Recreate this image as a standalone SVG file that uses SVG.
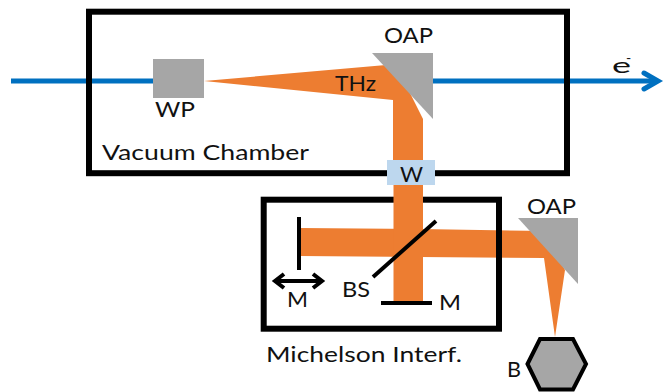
<svg xmlns="http://www.w3.org/2000/svg" width="670" height="392" viewBox="0 0 670 392">
<defs>
<style>
text{font-family:"Lato","Open Sans","Liberation Sans",sans-serif;font-size:22px;fill:#111}
.box{fill:none;stroke:#000;stroke-width:6}
.beam{fill:#ed7d31}
.mirror{fill:#a6a6a6}
.opt{stroke:#000;stroke-width:4;fill:none}
.eb{stroke:#0070c0;stroke-width:5;fill:none}
</style>
</defs>
<rect width="670" height="392" fill="#fff"/>
<g id="connectors">
<path class="eb" d="M11 81H204M433 81H657"/>
<path class="eb" d="M644 73L658 81L644 89" stroke-linecap="round" stroke-linejoin="miter"/>
<path class="beam" d="M204 81L386 65L408 89L423 119V160H393V100Z"/>
<path class="beam" d="M300 228L420 229L544 231L565 270L555 337L544 258L300 256Z"/>
</g>
<g id="vacuum-chamber">
<rect class="box" x="89" y="11.7" width="478" height="161.5"/>
<text x="102" y="160" textLength="207" lengthAdjust="spacingAndGlyphs">Vacuum Chamber</text>
</g>
<g id="michelson">
<rect class="box" x="263.7" y="199.7" width="235.3" height="129"/>
<text x="266" y="362" textLength="196" lengthAdjust="spacingAndGlyphs">Michelson Interf.</text>
</g>
<g id="thz-beam">
<rect class="beam" x="393.5" y="119" width="29.5" height="183"/>
<text x="335" y="91" textLength="41" lengthAdjust="spacingAndGlyphs">THz</text>
</g>
<g id="wp">
<rect class="mirror" x="153" y="59" width="51" height="39"/>
<text x="155" y="117" textLength="40" lengthAdjust="spacingAndGlyphs">WP</text>
</g>
<g id="oap1">
<polygon class="mirror" points="372,53 433,53 433,119"/>
<text x="384" y="43" textLength="49" lengthAdjust="spacingAndGlyphs">OAP</text>
</g>
<g id="window">
<rect x="387" y="160" width="48" height="25" fill="#bdd7ee"/>
<text x="400" y="182" textLength="23" lengthAdjust="spacingAndGlyphs">W</text>
</g>
<g id="electron">
<text x="612" y="73" textLength="19" lengthAdjust="spacingAndGlyphs">e</text>
<text x="626" y="63" style="font-size:14px">-</text>
</g>
<g id="moving-mirror">
<path class="opt" d="M299 217V270"/>
<path class="opt" d="M276 281H322M284 274L275 281L284 288M313 274L322 281L313 288"/>
<text x="287" y="307" textLength="21" lengthAdjust="spacingAndGlyphs">M</text>
</g>
<g id="beam-splitter">
<path class="opt" d="M373 277L436 221"/>
<text x="342" y="297" textLength="28" lengthAdjust="spacingAndGlyphs">BS</text>
</g>
<g id="fixed-mirror">
<path class="opt" d="M381 303H432"/>
<text x="439" y="310" textLength="22" lengthAdjust="spacingAndGlyphs">M</text>
</g>
<g id="oap2">
<polygon class="mirror" points="518,218 578,218 578,284"/>
<text x="527" y="214" textLength="49" lengthAdjust="spacingAndGlyphs">OAP</text>
</g>
<g id="bolometer">
<polygon points="527.5,364 540,339 573,339 586,364 573,389.5 540,389.5" fill="#a6a6a6" stroke="#000" stroke-width="4"/>
<text x="507" y="377" textLength="14" lengthAdjust="spacingAndGlyphs">B</text>
</g>
</svg>
